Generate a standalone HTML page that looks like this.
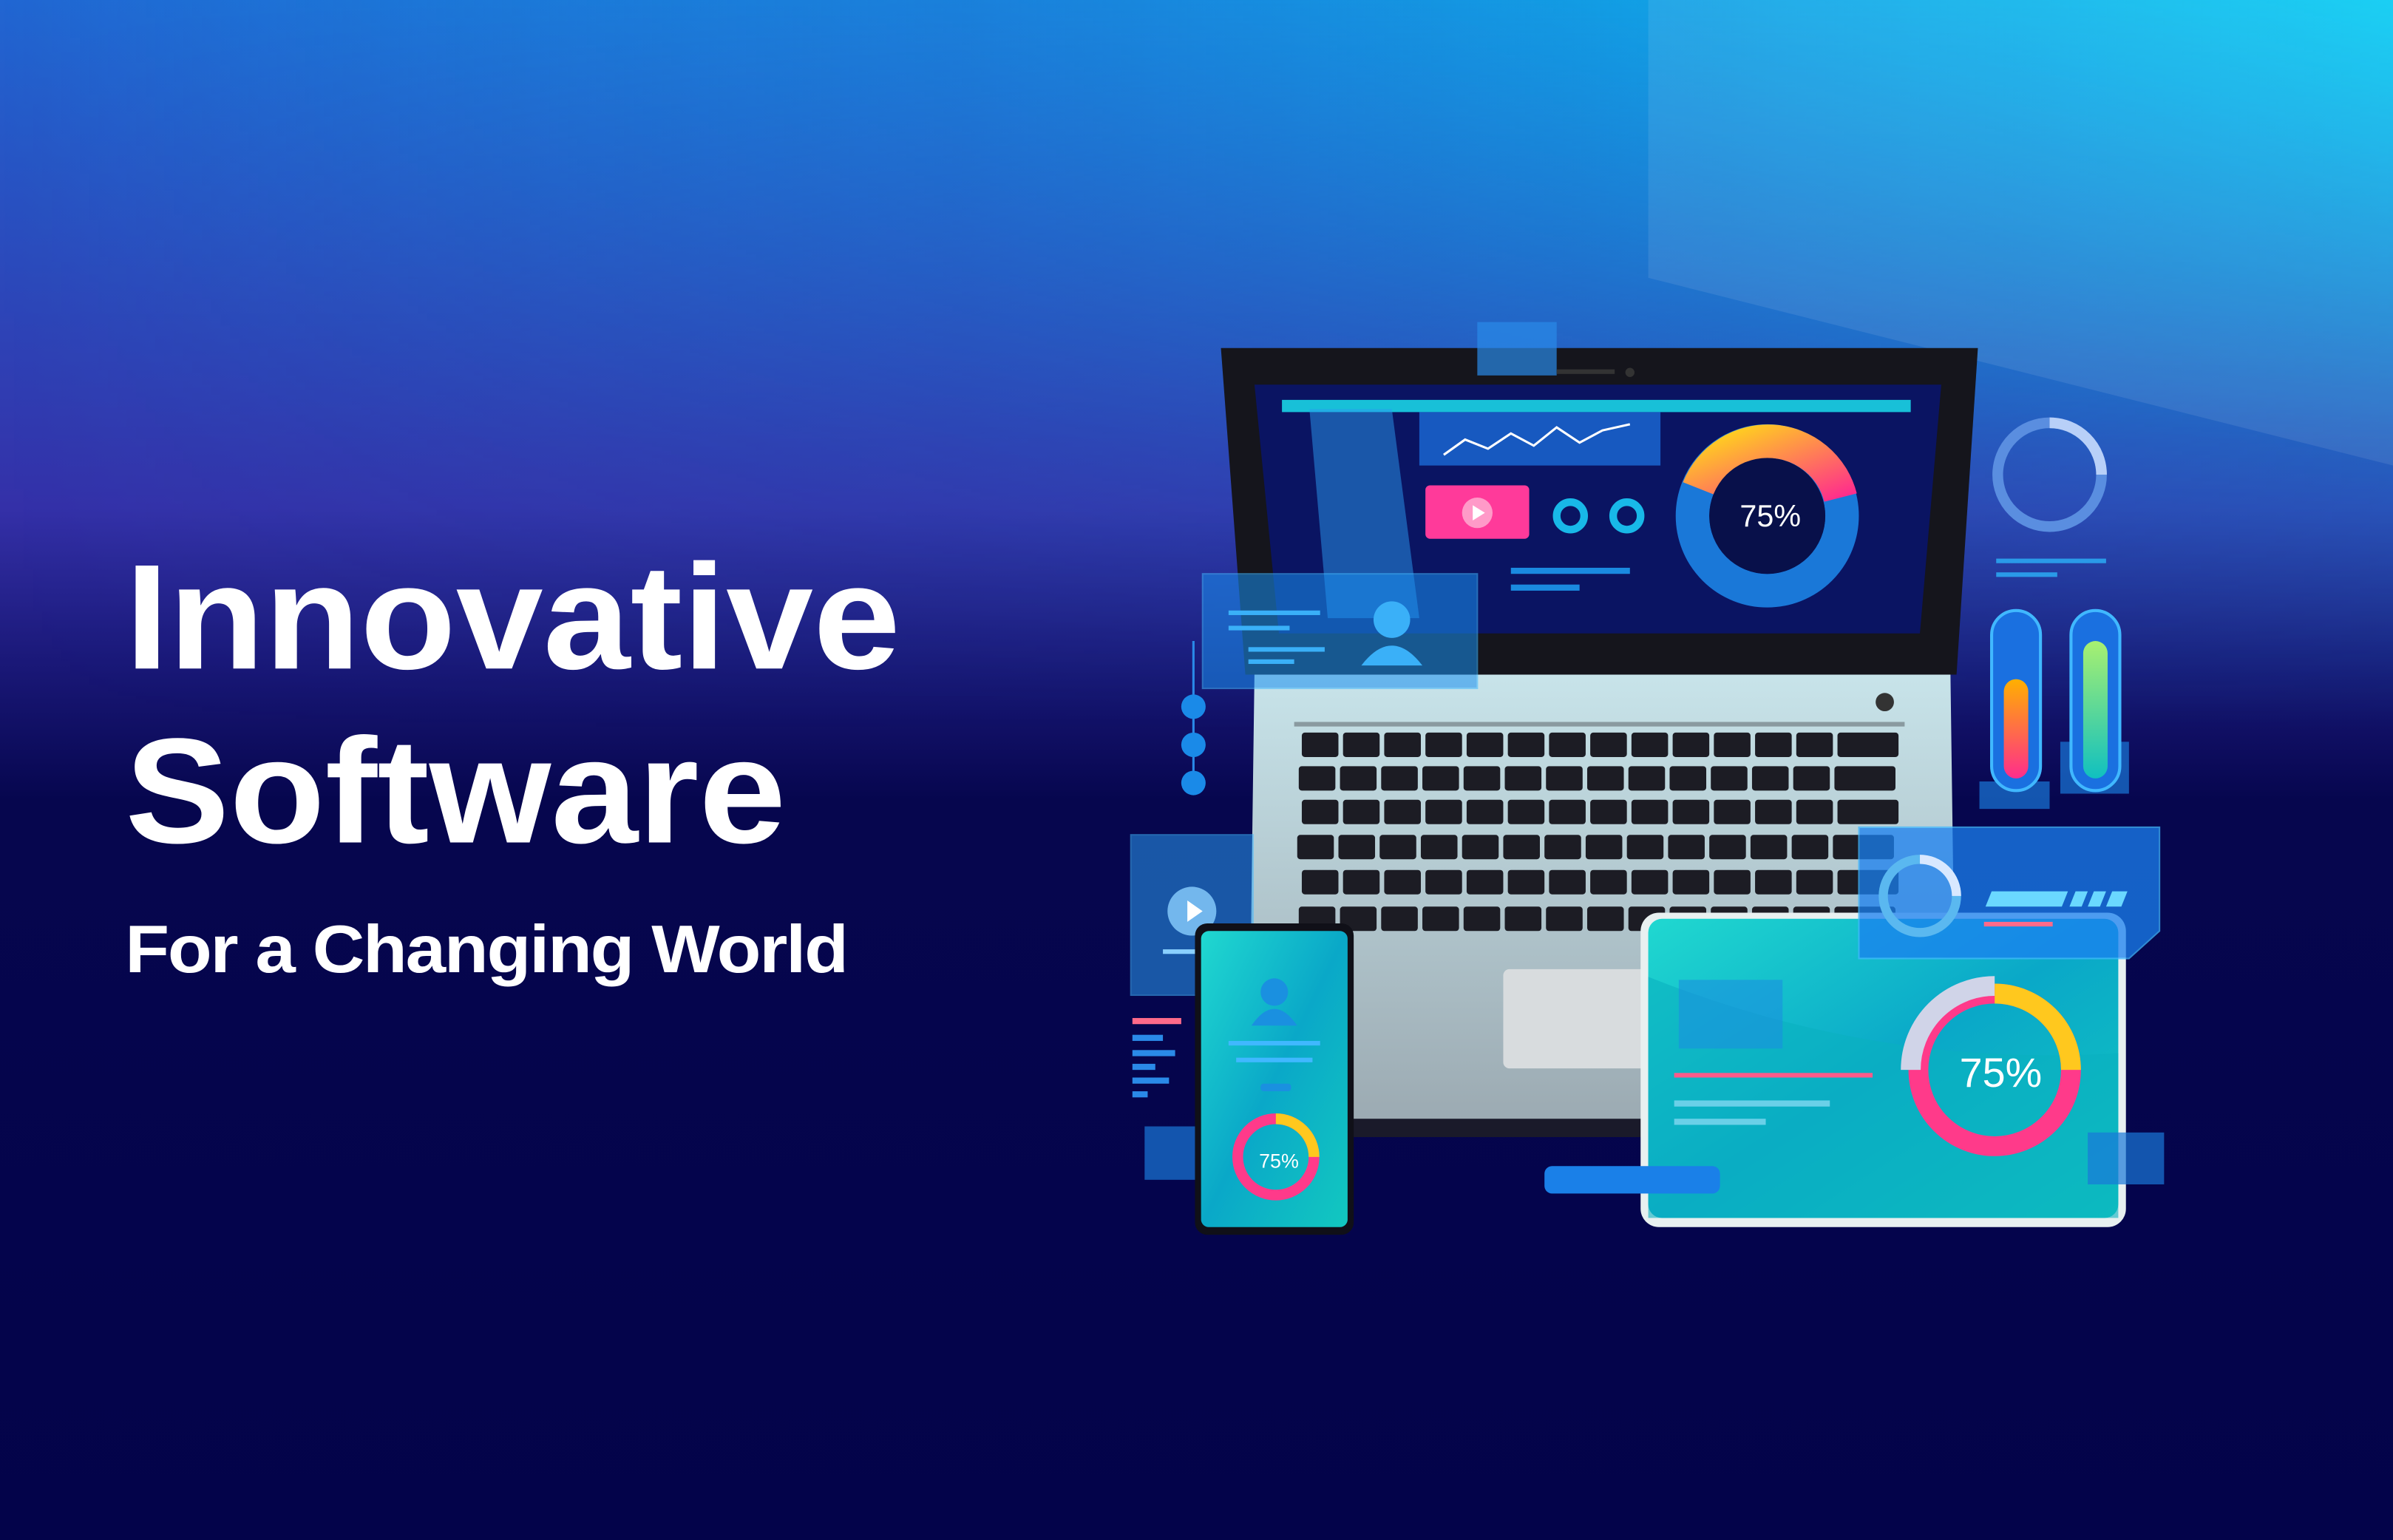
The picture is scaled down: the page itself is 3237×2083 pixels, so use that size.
<!DOCTYPE html>
<html><head><meta charset="utf-8"><style>
html,body{margin:0;padding:0;background:#03044a;}
svg{display:block}
</style></head><body>
<svg width="3237" height="2083" viewBox="0 0 1568 1009" preserveAspectRatio="none" xmlns="http://www.w3.org/2000/svg">
<defs>
<linearGradient id="bgv" x1="0" y1="0" x2="0" y2="1">
<stop offset="0" stop-color="#2166d2"/>
<stop offset="0.2" stop-color="#2d45b8"/>
<stop offset="0.33" stop-color="#3430a8"/>
<stop offset="0.43" stop-color="#1a1878"/>
<stop offset="0.52" stop-color="#06064e"/>
<stop offset="1" stop-color="#03034a"/>
</linearGradient>
<linearGradient id="bgh" x1="0" y1="0" x2="1" y2="0">
<stop offset="0" stop-color="#00d4f8" stop-opacity="0"/>
<stop offset="0.4" stop-color="#10a8e8" stop-opacity="0.4"/>
<stop offset="1" stop-color="#05cbf2" stop-opacity="1"/>
</linearGradient>
<linearGradient id="fade" x1="0" y1="0" x2="0" y2="1">
<stop offset="0" stop-color="#fff"/>
<stop offset="0.6" stop-color="#fff" stop-opacity="0.3"/>
<stop offset="1" stop-color="#fff" stop-opacity="0"/>
</linearGradient>
<mask id="m1"><rect x="0" y="0" width="1568" height="480" fill="url(#fade)"/></mask>
<linearGradient id="arc" x1="0" y1="0" x2="1" y2="1">
<stop offset="0" stop-color="#ffd21e"/><stop offset="1" stop-color="#ff2d8c"/>
</linearGradient>
<linearGradient id="teal" x1="0" y1="0" x2="1" y2="1">
<stop offset="0" stop-color="#20d8d0"/><stop offset="0.5" stop-color="#0aa8c8"/><stop offset="1" stop-color="#12c8c0"/>
</linearGradient>
<linearGradient id="base" x1="0" y1="0" x2="0" y2="1">
<stop offset="0" stop-color="#c8e4ea"/><stop offset="1" stop-color="#9aa8b0"/>
</linearGradient>
<linearGradient id="bar1" x1="0" y1="0" x2="0" y2="1">
<stop offset="0" stop-color="#ffb000"/><stop offset="1" stop-color="#ff2d8c"/>
</linearGradient>
<linearGradient id="bar2" x1="0" y1="0" x2="0" y2="1">
<stop offset="0" stop-color="#a8f070"/><stop offset="1" stop-color="#10c0c0"/>
</linearGradient>
</defs>
<rect width="1568" height="1009" fill="url(#bgv)"/>
<rect width="1568" height="480" fill="url(#bgh)" mask="url(#m1)"/>
<polygon points="1080,0 1568,0 1568,305 1080,182" fill="#ffffff" opacity="0.09"/>

<g font-family="'Liberation Sans',sans-serif" font-weight="bold" fill="#fff">
<text x="82" y="438" font-size="98" textLength="508" lengthAdjust="spacingAndGlyphs">Innovative</text>
<text x="82" y="552" font-size="98" textLength="433" lengthAdjust="spacingAndGlyphs">Software</text>
<text x="82" y="637" font-size="44" textLength="473" lengthAdjust="spacingAndGlyphs" letter-spacing="-1">For a Changing World</text>
</g>

<!-- laptop base -->
<path d="M822,440 L1278,440 L1282,735 L1030,735 L1015,745 L890,745 L885,735 L818,735 Z" fill="url(#base)"/>
<rect x="818" y="733" width="464" height="12" fill="#1a1a2a"/>
<rect x="848" y="473" width="400" height="3" fill="#8a9aa0"/>
<circle cx="1235" cy="460" r="6" fill="#333"/>
<g fill="#1c1c24">
<g id="row">
<rect x="853" y="480" width="24" height="16" rx="2"/><rect x="880" y="480" width="24" height="16" rx="2"/><rect x="907" y="480" width="24" height="16" rx="2"/><rect x="934" y="480" width="24" height="16" rx="2"/><rect x="961" y="480" width="24" height="16" rx="2"/><rect x="988" y="480" width="24" height="16" rx="2"/><rect x="1015" y="480" width="24" height="16" rx="2"/><rect x="1042" y="480" width="24" height="16" rx="2"/><rect x="1069" y="480" width="24" height="16" rx="2"/><rect x="1096" y="480" width="24" height="16" rx="2"/><rect x="1123" y="480" width="24" height="16" rx="2"/><rect x="1150" y="480" width="24" height="16" rx="2"/><rect x="1177" y="480" width="24" height="16" rx="2"/><rect x="1204" y="480" width="40" height="16" rx="2"/>
</g>
<use href="#row" y="22" x="-2"/><use href="#row" y="44"/><use href="#row" y="67" x="-3"/><use href="#row" y="90"/><use href="#row" y="114" x="-2"/>
</g>
<rect x="985" y="635" width="100" height="65" rx="4" fill="#d8dcde"/>

<!-- screen -->
<path d="M800,228 L1296,228 L1282,442 L816,442 Z" fill="#15151c"/>
<path d="M822,252 L1272,252 L1258,415 L838,415 Z" fill="#0a1462"/>
<rect x="840" y="262" width="412" height="8" fill="#18c0d8"/>
<rect x="930" y="270" width="158" height="35" fill="#1a6ad8" opacity="0.8"/>
<polyline points="946,298 960,288 975,294 990,284 1005,292 1020,280 1035,290 1050,282 1068,278" fill="none" stroke="#fff" stroke-width="1.5"/>
<rect x="934" y="318" width="68" height="35" rx="3" fill="#ff3a9a"/>
<circle cx="968" cy="336" r="10" fill="#ff9ac8"/>
<polygon points="965,331 965,341 973,336" fill="#fff"/>
<circle cx="1029" cy="338" r="9" fill="none" stroke="#18b8e8" stroke-width="5"/>
<circle cx="1066" cy="338" r="9" fill="none" stroke="#18b8e8" stroke-width="5"/>
<rect x="990" y="372" width="78" height="4" fill="#1a8ae0"/><rect x="990" y="383" width="45" height="4" fill="#1a8ae0"/>
<circle cx="1158" cy="338" r="49" fill="none" stroke="#1a78d8" stroke-width="22"/>
<path d="M1113,320 A49,49 0 0 1 1206,326" fill="none" stroke="url(#arc)" stroke-width="22"/>
<circle cx="1158" cy="338" r="38" fill="#08104a"/>
<text x="1160" y="345" font-family="'Liberation Sans',sans-serif" font-size="20" fill="#fff" text-anchor="middle">75%</text>
<rect x="968" y="211" width="52" height="35" fill="#2a8ae8" opacity="0.7"/>
<rect x="1020" y="242" width="38" height="3" fill="#333"/><circle cx="1068" cy="244" r="3" fill="#333"/>

<!-- left floating panels -->
<polygon points="858,268 912,268 930,405 870,405" fill="#2a9af0" opacity="0.5"/>
<rect x="788" y="376" width="180" height="75" fill="#1a90f0" opacity="0.55" stroke="#40b8ff" stroke-width="1"/>
<circle cx="912" cy="406" r="12" fill="#3ab0f8"/><path d="M892,436 Q912,410 932,436 Z" fill="#3ab0f8"/>
<g fill="#3ab0f8"><rect x="805" y="400" width="60" height="3"/><rect x="805" y="410" width="40" height="3"/><rect x="818" y="424" width="50" height="3"/><rect x="818" y="432" width="30" height="3"/></g>
<path d="M782,420 L782,515" stroke="#2a8ae8" stroke-width="1.5"/>
<circle cx="782" cy="463" r="8" fill="#1a8ae8"/><circle cx="782" cy="488" r="8" fill="#1a8ae8"/><circle cx="782" cy="513" r="8" fill="#1a8ae8"/>
<rect x="741" y="547" width="80" height="105" fill="#2a9af0" opacity="0.55" stroke="#40b8ff" stroke-width="1"/>
<circle cx="781" cy="597" r="16" fill="#8ad0ff" opacity="0.8"/><polygon points="778,590 778,604 788,597" fill="#fff"/>
<rect x="762" y="622" width="40" height="3" fill="#8ad0ff"/><rect x="800" y="638" width="14" height="4" fill="#fff"/>
<g><rect x="742" y="667" width="32" height="4" fill="#ff6a8a"/><rect x="742" y="678" width="20" height="4" fill="#2a8ae8"/><rect x="742" y="688" width="28" height="4" fill="#2a8ae8"/><rect x="742" y="697" width="15" height="4" fill="#2a8ae8"/><rect x="742" y="706" width="24" height="4" fill="#2a8ae8"/><rect x="742" y="715" width="10" height="4" fill="#2a8ae8"/></g>
<rect x="750" y="738" width="38" height="35" fill="#1a78d8" opacity="0.7"/>

<!-- phone -->
<rect x="783" y="605" width="104" height="204" rx="8" fill="#101018"/>
<rect x="787" y="610" width="96" height="194" rx="5" fill="url(#teal)"/>
<circle cx="835" cy="650" r="9" fill="#1a90e0"/><path d="M820,672 Q835,650 850,672 Z" fill="#1a90e0"/>
<rect x="805" y="682" width="60" height="3" fill="#40b8ff"/><rect x="810" y="693" width="50" height="3" fill="#40b8ff"/>
<rect x="826" y="710" width="20" height="5" rx="2" fill="#1a90e0"/>
<circle cx="836" cy="758" r="25" fill="none" stroke="#ff3a8a" stroke-width="7"/>
<path d="M836,733 A25,25 0 0 1 861,758" fill="none" stroke="#ffc81e" stroke-width="7"/>
<text x="838" y="765" font-family="'Liberation Sans',sans-serif" font-size="13" fill="#fff" text-anchor="middle">75%</text>

<!-- tablet -->
<rect x="1075" y="598" width="318" height="206" rx="12" fill="#e8f0f0"/>
<rect x="1080" y="602" width="308" height="196" rx="9" fill="url(#teal)"/>
<path d="M1080,640 Q1230,700 1388,690 L1388,798 L1080,798 Z" fill="#0ab0c0" opacity="0.6"/>
<rect x="1100" y="642" width="68" height="45" fill="#1a90e0" opacity="0.6"/>
<rect x="1097" y="703" width="130" height="3" fill="#ff5a8a"/><rect x="1097" y="721" width="102" height="4" fill="#6ad0e8"/><rect x="1097" y="733" width="60" height="4" fill="#6ad0e8"/>
<circle cx="1307" cy="701" r="50" fill="none" stroke="#ff3a8a" stroke-width="13"/>
<path d="M1252,701 A55,55 0 0 1 1307,646" fill="none" stroke="#d0d4e8" stroke-width="13"/>
<path d="M1307,651 A50,50 0 0 1 1357,701" fill="none" stroke="#ffc81e" stroke-width="13"/>
<text x="1311" y="712" font-family="'Liberation Sans',sans-serif" font-size="27" fill="#fff" text-anchor="middle">75%</text>
<rect x="1368" y="742" width="50" height="34" fill="#1a78d8" opacity="0.7"/>
<rect x="1012" y="764" width="115" height="18" rx="5" fill="#1a80e8"/>

<!-- right panel -->
<polygon points="1218,542 1415,542 1415,610 1395,628 1218,628" fill="#1a80f0" opacity="0.75" stroke="#40b8ff"/>
<circle cx="1258" cy="587" r="24" fill="none" stroke="#5ab8f0" stroke-width="6"/>
<path d="M1258,563 A24,24 0 0 1 1282,587" fill="none" stroke="#d8e8ff" stroke-width="6"/>
<polygon points="1305,584 1355,584 1351,594 1301,594" fill="#6ad8ff"/>
<polygon points="1360,584 1368,584 1364,594 1356,594" fill="#6ad8ff"/><polygon points="1372,584 1380,584 1376,594 1368,594" fill="#6ad8ff"/><polygon points="1384,584 1394,584 1390,594 1380,594" fill="#6ad8ff"/>
<rect x="1300" y="604" width="45" height="3" fill="#ff6a8a"/>

<!-- top right ring & bars -->
<circle cx="1343" cy="311" r="34" fill="none" stroke="#5a8ee0" stroke-width="7"/>
<path d="M1343,277 A34,34 0 0 1 1377,311" fill="none" stroke="#b8d0f8" stroke-width="7"/>
<rect x="1308" y="366" width="72" height="3" fill="#2a9ae8"/><rect x="1308" y="375" width="40" height="3" fill="#2a9ae8"/>
<rect x="1297" y="512" width="46" height="18" fill="#1a78d8" opacity="0.7"/>
<rect x="1350" y="486" width="45" height="34" fill="#1a78d8" opacity="0.7"/>
<rect x="1305" y="400" width="32" height="118" rx="16" fill="#1a70e0" stroke="#40b8ff" stroke-width="2"/>
<rect x="1313" y="445" width="16" height="65" rx="8" fill="url(#bar1)"/>
<rect x="1357" y="400" width="32" height="118" rx="16" fill="#1a70e0" stroke="#40b8ff" stroke-width="2"/>
<rect x="1365" y="420" width="16" height="90" rx="8" fill="url(#bar2)"/>
</svg>
</body></html>
